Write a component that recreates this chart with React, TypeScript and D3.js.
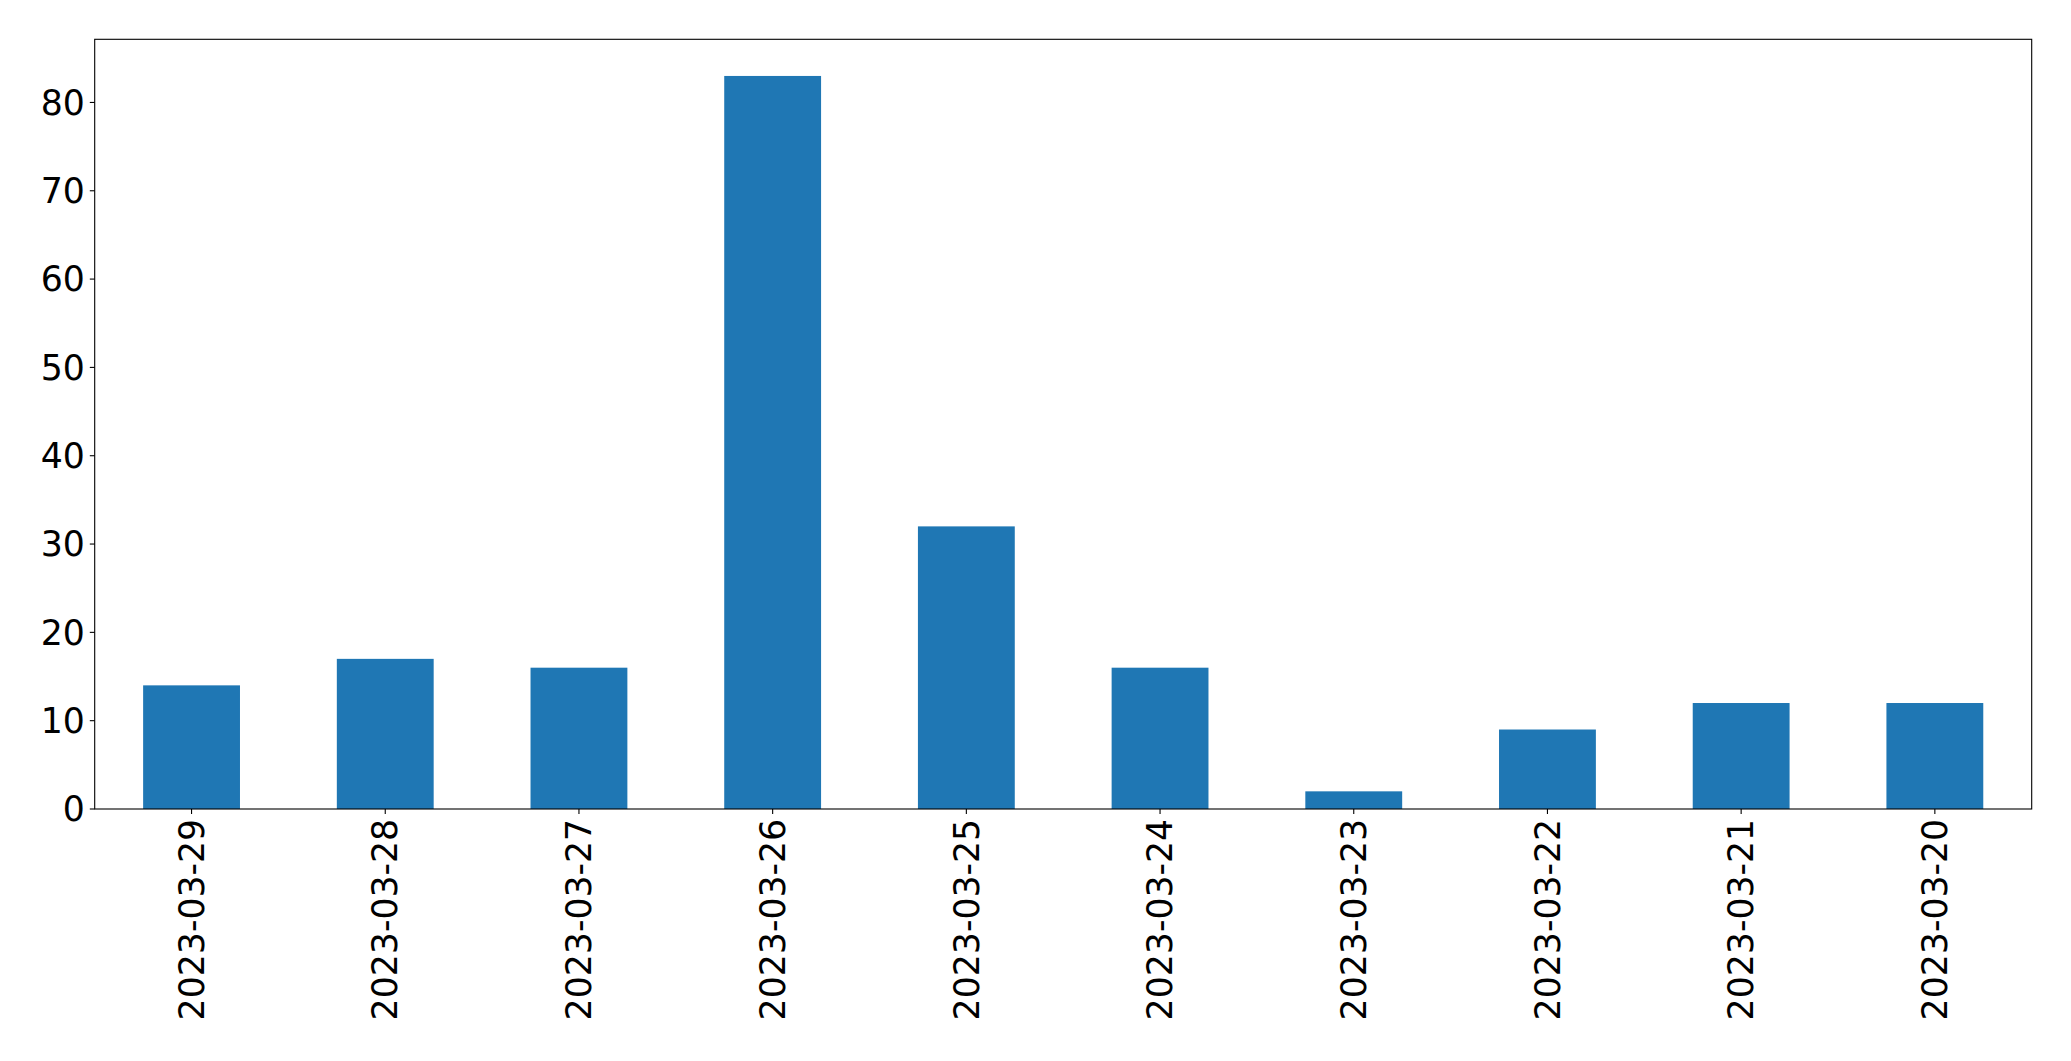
import React, { useEffect, useRef } from "react";
import * as d3 from "d3";

const categories = [
  "2023-03-29", "2023-03-28", "2023-03-27", "2023-03-26", "2023-03-25",
  "2023-03-24", "2023-03-23", "2023-03-22", "2023-03-21", "2023-03-20",
];
const values = [14, 17, 16, 83, 32, 16, 2, 9, 12, 12];
const yTicks = [0, 10, 20, 30, 40, 50, 60, 70, 80];

const W = 2071, H = 1061;
const M = { left: 94.7, right: 2031.7, top: 39.3, bottom: 809 };
const FONT = "DejaVu Sans, sans-serif";
const FS = 34.7;

export default function App() {
  const ref = useRef<SVGSVGElement>(null);
  useEffect(() => {
    const svg = d3.select(ref.current);
    svg.selectAll("*").remove();
    const x = d3.scaleLinear().domain([-0.5, categories.length - 0.5]).range([M.left, M.right]);
    const y = d3.scaleLinear().domain([0, d3.max(values)! * 1.05]).range([M.bottom, M.top]);
    svg.append("rect").attr("width", W).attr("height", H).attr("fill", "#fff");
    const bw = x(0.25) - x(-0.25);
    svg.append("g").selectAll("rect").data(values).join("rect")
      .attr("x", (_, i) => x(i) - bw / 2)
      .attr("width", bw)
      .attr("y", (d) => y(d))
      .attr("height", (d) => y(0) - y(d))
      .attr("fill", "#1f77b4");
    // frame
    svg.append("rect")
      .attr("x", M.left).attr("y", M.top)
      .attr("width", M.right - M.left).attr("height", M.bottom - M.top)
      .attr("fill", "none").attr("stroke", "#000").attr("stroke-width", 1.1);
    // y ticks
    const yg = svg.append("g");
    yTicks.forEach((t) => {
      yg.append("line").attr("x1", M.left - 4.9).attr("x2", M.left)
        .attr("y1", y(t)).attr("y2", y(t)).attr("stroke", "#000").attr("stroke-width", 1.1);
      yg.append("text").attr("x", M.left - 9.8).attr("y", y(t)).attr("dy", "0.35em")
        .attr("text-anchor", "end").attr("font-family", FONT).attr("font-size", FS)
        .attr("fill", "#000").text(String(t));
    });
    // x ticks
    const xg = svg.append("g");
    categories.forEach((c, i) => {
      xg.append("line").attr("x1", x(i)).attr("x2", x(i))
        .attr("y1", M.bottom).attr("y2", M.bottom + 4.9).attr("stroke", "#000").attr("stroke-width", 1.1);
      xg.append("text")
        .attr("transform", `translate(${x(i)},${M.bottom + 9.8}) rotate(-90)`)
        .attr("dy", "0.35em")
        .attr("text-anchor", "end").attr("font-family", FONT).attr("font-size", FS)
        .attr("fill", "#000").text(c);
    });
  }, []);
  return (
    <svg ref={ref} width={W} height={H}
      style={{ position: "absolute", left: 0, top: 0, display: "block" }} />
  );
}
